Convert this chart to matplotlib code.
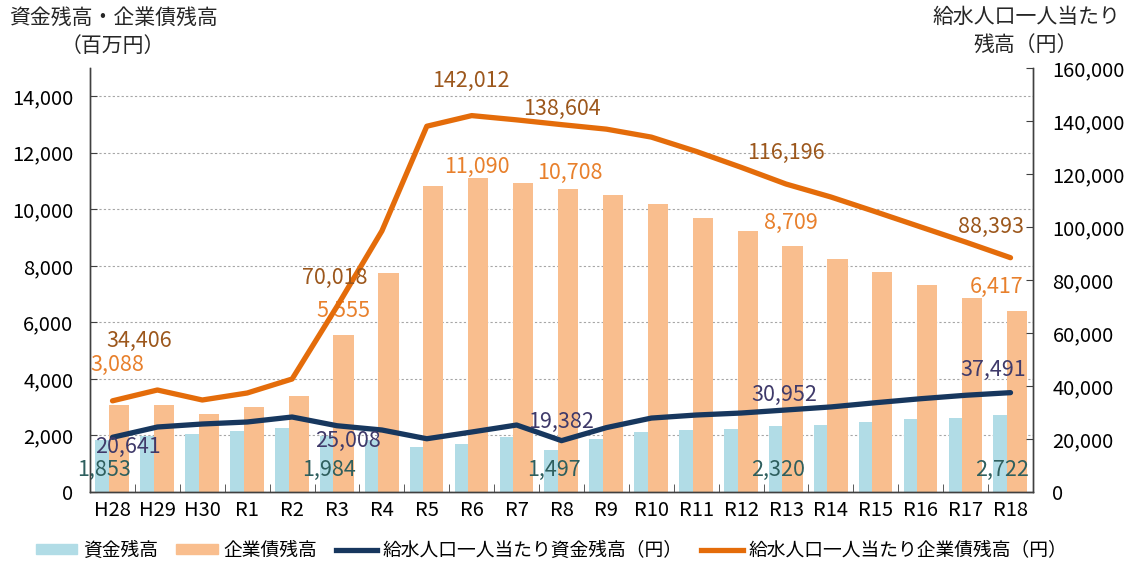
import numpy as np
import matplotlib
matplotlib.use("Agg")
import matplotlib.pyplot as plt
from matplotlib.patches import Patch
from matplotlib.lines import Line2D

plt.rcParams['font.family'] = ['Noto Sans CJK JP', 'DejaVu Sans']

# data
years = ['H28', 'H29', 'H30', 'R1', 'R2', 'R3', 'R4', 'R5', 'R6', 'R7', 'R8',
         'R9', 'R10', 'R11', 'R12', 'R13', 'R14', 'R15', 'R16', 'R17', 'R18']
fund = [1853, 1990, 2050, 2155, 2250, 1984, 1850, 1600, 1700, 1944, 1497,
        1873, 2120, 2190, 2230, 2320, 2370, 2470, 2580, 2620, 2722]
bond = [3088, 3070, 2760, 2990, 3400, 5555, 7750, 10810, 11090, 10920, 10708,
        10500, 10180, 9680, 9220, 8709, 8230, 7770, 7310, 6860, 6417]
fund_pc = [20641, 24530, 25660, 26420, 28300, 25008, 23400, 20100, 22640, 25280, 19382,
           24300, 27900, 29050, 29800, 30952, 32100, 33700, 35200, 36500, 37491]
bond_pc = [34406, 38490, 34720, 37360, 42640, 70018, 98500, 138000, 142012, 140400, 138604,
           136900, 133900, 128500, 122500, 116196, 111300, 105700, 100000, 94300, 88393]
labelled = [0, 5, 10, 15, 20]          # years with labels on fund / fund_pc
bond_pc_labelled = [0, 5, 8, 10, 15, 20]
bond_labelled = [0, 5, 8, 10, 15, 20]

c_fund = '#B1DCE6'
c_bond = '#F9BE8E'
c_fund_pc = '#17375E'
c_bond_pc = '#E46C0A'

fig = plt.figure(figsize=(11.37, 5.66), dpi=100)
ax = fig.add_axes([0.0792, 0.1307, 0.8293, 0.7493])
ax2 = ax.twinx()

x = np.arange(len(years))
ax.bar(x - 0.23, fund, width=0.30, color=c_fund, zorder=2)
ax.bar(x + 0.145, bond, width=0.45, color=c_bond, zorder=2)
ax2.plot(x, fund_pc, color=c_fund_pc, lw=3.8, solid_capstyle='round', solid_joinstyle='round')
ax2.plot(x, bond_pc, color=c_bond_pc, lw=3.8, solid_capstyle='round', solid_joinstyle='round')

ax.set_xlim(-0.5, len(years) - 0.5)
ax.set_ylim(0, 15000)
ax2.set_ylim(0, 160000)
ax.set_yticks(np.arange(0, 14001, 2000))
ax2.set_yticks(np.arange(0, 160001, 20000))
ax.set_yticklabels([f'{v:,}' for v in range(0, 14001, 2000)])
ax2.set_yticklabels([f'{v:,}' for v in range(0, 160001, 20000)])
ax.set_xticks(x)
ax.set_xticklabels(years)
ax.set_xticks(np.arange(-0.5, len(years), 1), minor=True)

ax.grid(axis='y', linestyle=(0, (2, 2)), color='#A6A6A6', lw=0.8)
ax.set_axisbelow(True)

for a in (ax, ax2):
    a.spines['top'].set_visible(False)
    for s in ('left', 'right', 'bottom'):
        a.spines[s].set_color('#404040')
        a.spines[s].set_linewidth(1.0)
ax.tick_params(axis='x', which='major', length=0, labelsize=14.5, pad=6)
ax.tick_params(axis='x', which='minor', direction='in', length=6, color='#404040')
ax.tick_params(axis='y', direction='in', length=5, labelsize=14.5, pad=12, color='#404040')
ax2.tick_params(axis='y', direction='in', length=5, labelsize=14.5, pad=14, color='#404040')

# data labels
fs = 15.5
bond_pc_off = {0: (27, 60), 5: (-2, 28), 8: (-1, 35), 10: (0, 16), 15: (0, 31), 20: (-20, 31)}
bond_off = {0: (5, 40), 5: (6, 24), 8: (5, 12), 10: (8, 16), 15: (5, 23), 20: (-14, 24)}
fund_pc_off = {0: (15, -10), 5: (11, -15), 10: (0, 19), 15: (-2, 15), 20: (-17, 23)}

for i in bond_pc_labelled:
    ax2.annotate(f'{bond_pc[i]:,}', (i, bond_pc[i]), xytext=bond_pc_off[i], textcoords='offset pixels',
                 ha='center', va='center', fontsize=fs, color='#9C571C')
for i in bond_labelled:
    ax.annotate(f'{bond[i]:,}', (i, bond[i]), xytext=bond_off[i], textcoords='offset pixels',
                ha='center', va='center', fontsize=fs, color='#E8802C')
for i in labelled:
    ax2.annotate(f'{fund_pc[i]:,}', (i, fund_pc[i]), xytext=fund_pc_off[i], textcoords='offset pixels',
                 ha='center', va='center', fontsize=fs, color='#3F3A6A')
    ax.annotate(f'{fund[i]:,}', (i, 0), xytext=(-8, 22), textcoords='offset pixels',
                ha='center', va='center', fontsize=fs, color='#2E5F5E')

# axis titles
fig.text(113 / 1137, 1 - 32 / 566, '資金残高・企業債残高\n（百万円）', ha='center', va='center',
         fontsize=15, linespacing=1.35, color='#262626')
fig.text(1026 / 1137, 1 - 31 / 566, '給水人口一人当たり\n残高（円）', ha='center', va='center',
         fontsize=15, linespacing=1.35, color='#262626')

handles = [Patch(color=c_fund), Patch(color=c_bond),
           Line2D([], [], color=c_fund_pc, lw=3.8), Line2D([], [], color=c_bond_pc, lw=3.8)]
names = ['資金残高', '企業債残高', '給水人口一人当たり資金残高（円）', '給水人口一人当たり企業債残高（円）']
fig.legend(handles, names, loc='center', bbox_to_anchor=(0.485, 1 - 550 / 566), ncol=4, frameon=False,
           fontsize=13.5, handlelength=2.2, handleheight=0.5, handletextpad=0.3, columnspacing=1.0)

fig.savefig('out.png', dpi=100)
